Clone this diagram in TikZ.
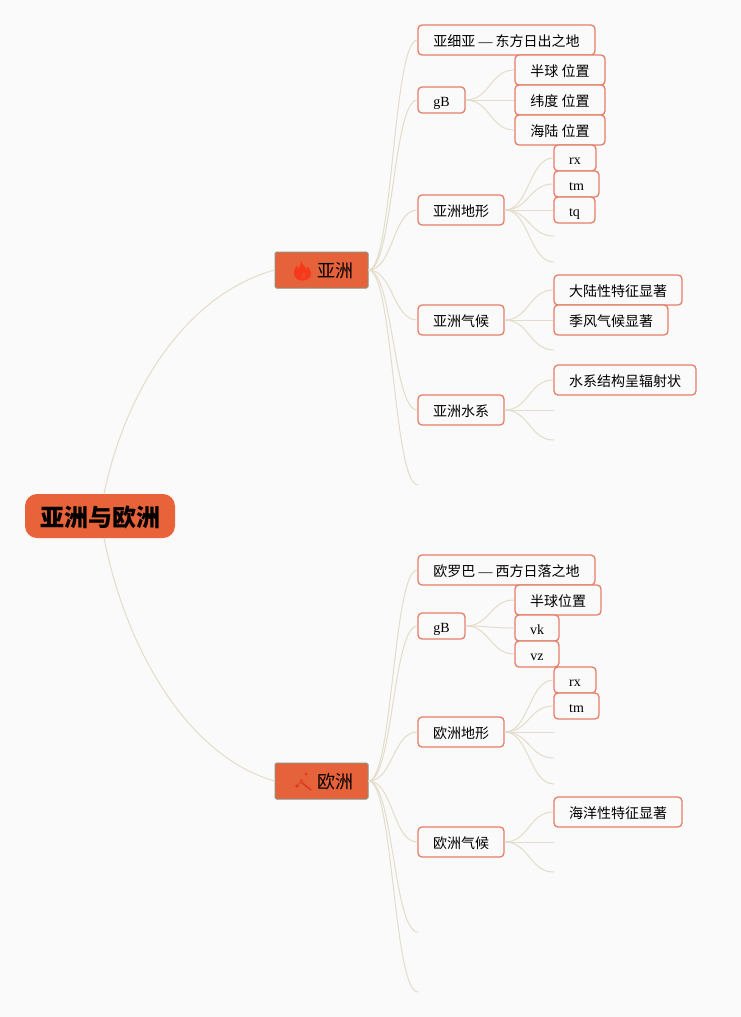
\documentclass[tikz,border=0pt]{standalone}
\usepackage{fontspec}
\setmainfont{Liberation Serif}
\newfontfamily\cjk{Noto Sans CJK SC}
\usetikzlibrary{calc}
\definecolor{bgc}{HTML}{FAFAFA}
\definecolor{edgec}{HTML}{E4DCCA}
\definecolor{boxc}{HTML}{E67D67}
\definecolor{topicc}{HTML}{E5623A}
\definecolor{rootc}{HTML}{E8623A}
\definecolor{topicl}{HTML}{8F8F7C}
\definecolor{flamec}{HTML}{F53A1C}
\definecolor{wandc}{HTML}{D93A20}
\tikzset{
  edge/.style={draw=edgec,line width=0.75pt},
  box/.style={draw=boxc,fill=bgc,rounded corners=3pt,line width=0.95pt,inner sep=0pt,font=\fontsize{10.5}{12}\selectfont},
  topicbox/.style={draw=topicl,fill=topicc,rounded corners=1.2pt,line width=0.75pt,inner sep=0pt},
  rootbox/.style={fill=rootc,rounded corners=9pt,inner sep=0pt}
}
\newcommand\bx[7][box]{\node[#1,minimum width={(#4-#3)*0.75pt},minimum height={(#6-#5)*0.75pt}] (#2) at ({(#3+#4)/2},{(#5+#6)/2}) {#7};}
\newcommand\lnk[2]{\draw[edge] let \p1=(#1), \p2=(#2), \n1={(\x2-\x1)/2} in (\p1) .. controls (\x1+\n1,\y1) and (\x2-\n1,\y2) .. (\p2);}
\newcommand\cj[1]{\raisebox{-0.75pt}[\height][\depth]{\cjk #1}}
\newcommand\ltn[1]{\raisebox{-4.6pt}[0pt][0pt]{#1}}
\begin{document}
\begin{tikzpicture}[x=0.75pt,y=-0.75pt]
\fill[bgc] (0,0) rectangle (741,1017);
\useasboundingbox (0,0) rectangle (741,1017);
% free ends
\coordinate (a1) at (554,236);
\coordinate (a2) at (554,262);
\coordinate (a3) at (554,350);
\coordinate (a4) at (554,410);
\coordinate (a5) at (554,440);
\coordinate (a6) at (418,485);
\coordinate (e1) at (554,732);
\coordinate (e2) at (554,758);
\coordinate (e3) at (554,784);
\coordinate (e4) at (554,842);
\coordinate (e5) at (554,872);
\coordinate (e6) at (418,932);
\coordinate (e7) at (418,992);
\coordinate (rootup) at (104,494);
\coordinate (rootdn) at (104,538);
% nodes
\bx[rootbox]{root}{25}{175}{494}{538}{\fontsize{18}{20}\selectfont\cj{\bfseries 亚洲与欧洲}}
\bx[topicbox]{asia}{275}{368}{252}{288}{}
\bx[topicbox]{euro}{275}{368}{763}{799}{}
\node[font=\fontsize{13.5}{15}\selectfont\cjk,inner sep=0pt] (asiat) at (335,271) {亚洲};
\node[font=\fontsize{13.5}{15}\selectfont\cjk,inner sep=0pt] (eurot) at (335,782) {欧洲};
\bx{a0}{418}{595}{25}{55}{\cj{亚细亚 {\rmfamily —} 东方日出之地}}
\bx{agb}{418}{465}{87}{113}{\ltn{gB}}
\bx{ag1}{515}{605}{55}{85}{\cj{半球 位置}}
\bx{ag2}{515}{605}{85}{115}{\cj{纬度 位置}}
\bx{ag3}{515}{605}{115}{145}{\cj{海陆 位置}}
\bx{at}{418}{504}{195}{225}{\cj{亚洲地形}}
\bx{at1}{554}{596}{145}{171}{\ltn{rx}}
\bx{at2}{554}{599}{171}{197}{\ltn{tm}}
\bx{at3}{554}{595}{197}{223}{\ltn{tq}}
\bx{ac}{418}{504}{305}{335}{\cj{亚洲气候}}
\bx{ac1}{554}{682}{275}{305}{\cj{大陆性特征显著}}
\bx{ac2}{554}{668}{305}{335}{\cj{季风气候显著}}
\bx{ar}{418}{504}{395}{425}{\cj{亚洲水系}}
\bx{ar1}{554}{696}{365}{395}{\cj{水系结构呈辐射状}}
\bx{e0}{418}{595}{555}{585}{\cj{欧罗巴 {\rmfamily —} 西方日落之地}}
\bx{egb}{418}{465}{613}{639}{\ltn{gB}}
\bx{eg1}{515}{601}{585}{615}{\cj{半球位置}}
\bx{eg2}{515}{559}{615}{641}{\ltn{vk}}
\bx{eg3}{515}{559}{641}{667}{\ltn{vz}}
\bx{et}{418}{504}{717}{747}{\cj{欧洲地形}}
\bx{et1}{554}{596}{667}{693}{\ltn{rx}}
\bx{et2}{554}{599}{693}{719}{\ltn{tm}}
\bx{ec}{418}{504}{827}{857}{\cj{欧洲气候}}
\bx{ec1}{554}{682}{797}{827}{\cj{海洋性特征显著}}
% connectors
\draw[edge] (rootup) .. controls (125,392) and (185,295) .. (asia.west);
\draw[edge] (rootdn) .. controls (125,645) and (185,755) .. (euro.west);
\lnk{asia.east}{a0.west}
\lnk{asia.east}{agb.west}
\lnk{asia.east}{at.west}
\lnk{asia.east}{ac.west}
\lnk{asia.east}{ar.west}
\lnk{asia.east}{a6}
\lnk{agb.east}{ag1.west}
\lnk{agb.east}{ag2.west}
\lnk{agb.east}{ag3.west}
\lnk{at.east}{at1.west}
\lnk{at.east}{at2.west}
\lnk{at.east}{at3.west}
\lnk{at.east}{a1}
\lnk{at.east}{a2}
\lnk{ac.east}{ac1.west}
\lnk{ac.east}{ac2.west}
\lnk{ac.east}{a3}
\lnk{ar.east}{ar1.west}
\lnk{ar.east}{a4}
\lnk{ar.east}{a5}
\lnk{euro.east}{e0.west}
\lnk{euro.east}{egb.west}
\lnk{euro.east}{et.west}
\lnk{euro.east}{ec.west}
\lnk{euro.east}{e6}
\lnk{euro.east}{e7}
\lnk{egb.east}{eg1.west}
\lnk{egb.east}{eg2.west}
\lnk{egb.east}{eg3.west}
\lnk{et.east}{et1.west}
\lnk{et.east}{et2.west}
\lnk{et.east}{e1}
\lnk{et.east}{e2}
\lnk{et.east}{e3}
\lnk{ec.east}{ec1.west}
\lnk{ec.east}{e4}
\lnk{ec.east}{e5}
% icons
\fill[flamec] (301,260.5) .. controls (302,265) and (305,266) .. (307,269)
  .. controls (308,267.5) and (308,267) .. (308,266.5)
  .. controls (311,270) and (311.5,274) .. (310.5,276)
  .. controls (309,279.5) and (305,280.5) .. (302,280.5)
  .. controls (298,280.5) and (294.5,278) .. (294,274)
  .. controls (293.5,270) and (296,267) .. (297,265.5)
  .. controls (297.5,267) and (298,268) .. (298.5,268.5)
  .. controls (300,266) and (301.5,263) .. (301,260.5) -- cycle;
\fill[topicc!35!flamec] (304,272) .. controls (304.5,274.5) and (306.5,275) .. (305.5,277.5)
  .. controls (304.5,279) and (302,279) .. (301,277.5)
  .. controls (300,276) and (303,274.5) .. (304,272) -- cycle;
\draw[wandc,line width=1.2pt] (300,781) -- (311,790);
\draw[wandc!60!topicc,line width=0.8pt] (297,786) -- (303,779.5);
\fill[wandc] (297,786) circle (1.8);
\fill[wandc] (306,774) circle (1.5);
\fill[wandc!70!topicc] (301,780) circle (1);
\end{tikzpicture}
\end{document}
